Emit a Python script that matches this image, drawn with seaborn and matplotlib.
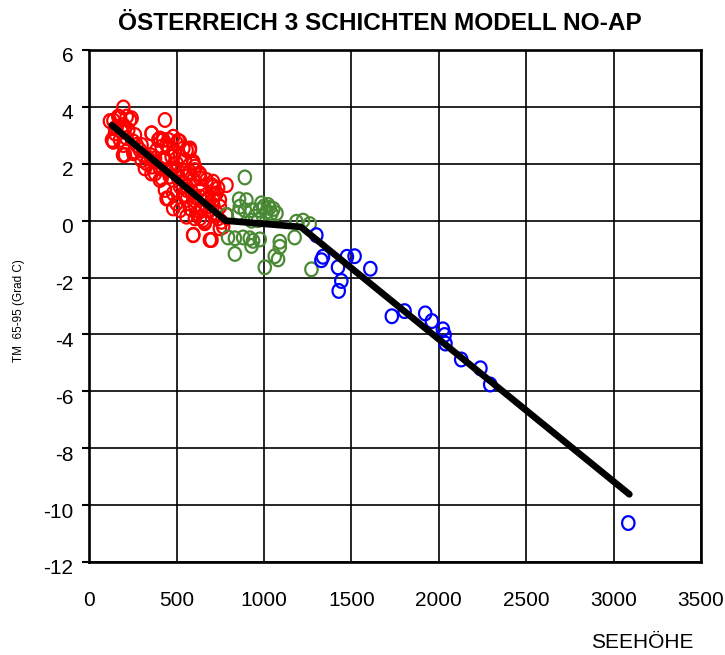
import numpy as np
import pandas as pd
import matplotlib
matplotlib.use("Agg")
import matplotlib.pyplot as plt
from matplotlib.path import Path
from matplotlib.markers import MarkerStyle
from matplotlib.transforms import ScaledTranslation
import seaborn as sns

# ---------------- data ----------------
red_x = [195, 138, 176, 214, 433, 233, 157, 195, 147, 185, 223, 138, 176, 214, 252, 271,
         204, 252, 290, 309, 357, 395, 423, 452, 509, 414, 452, 385, 347, 376, 423, 471,
         519, 557, 499, 357, 404, 442, 480, 528, 576, 604, 633, 376, 414, 461, 509, 557,
         595, 671, 709, 785, 433, 480, 538, 585, 442, 499, 557, 595, 633, 671, 728, 747,
         519, 576, 614, 671, 709, 747, 785, 633, 661, 595, 699, 499, 538, 480, 519, 557,
         633, 328, 299, 575, 594, 632, 708, 737, 556, 604, 670, 708, 632, 690, 728, 651,
         756, 747, 594, 690, 766, 556, 130, 193,
         118, 166, 242, 147, 204, 261, 137, 195, 261, 299, 356, 404, 442, 518, 576, 490,
         337, 375, 433, 547, 595, 318, 356, 404, 490, 566, 633, 604, 699, 452, 547, 480,
         604, 642, 680, 718, 604, 661, 737]
red_y = [3.98, 3.52, 3.63, 3.66, 3.54, 3.54, 3.30, 3.36, 3.07, 3.13, 3.19, 2.78, 2.84, 2.90, 2.78, 2.66,
         2.31, 2.37, 2.48, 2.31, 3.07, 2.84, 2.84, 2.84, 2.81, 2.60, 2.54, 2.48, 2.31, 2.19, 2.19, 2.25,
         2.25, 2.48, 2.02, 1.90, 1.84, 1.78, 1.84, 1.78, 1.72, 1.78, 1.49, 1.66, 1.49, 1.55, 1.49, 1.55,
         1.43, 1.43, 1.20, 1.25, 1.08, 0.96, 0.90, 1.02, 0.78, 0.61, 0.73, 0.73, 0.84, 0.73, 0.96, 0.73,
         0.37, 0.43, 0.26, 0.49, 0.55, 0.49, 0.20, 0.08, -0.09, -0.50, -0.68, 2.72, 2.54, 2.95, 1.20, 1.20,
         1.08, 2.02, 2.13, 2.48, 2.00, 1.66, 1.37, 1.14, 1.08, 0.84, 0.90, 0.73, 0.32, 0.37, 0.26, 0.02,
         -0.04, -0.27, -0.51, -0.68, -0.21, 0.14, 2.84, 2.31,
         3.50, 3.66, 3.60, 3.25, 3.25, 3.01, 2.78, 2.66, 2.43, 2.66, 3.07, 2.89, 2.66, 2.78, 2.54, 2.43,
         2.19, 2.07, 2.13, 2.13, 2.07, 1.84, 1.66, 1.43, 1.72, 1.66, 1.60, 1.90, 1.25, 0.78, 0.90, 0.43,
         0.55, 0.38, 0.78, 0.90, 0.08, -0.04, 0.08]

green_x = [890, 857, 899, 861, 890, 928, 852, 785, 985, 1023, 1013, 1042, 1071, 975, 928, 966,
           794, 833, 880, 918, 937, 928, 833, 975, 1090, 1090, 1061, 1080, 1004, 1185, 1223, 1261,
           1175, 1271, 947, 1053, 1030, 1000]
green_y = [1.52, 0.75, 0.72, 0.49, 0.37, 0.37, 0.26, 0.20, 0.61, 0.55, 0.31, 0.26, 0.26, 0.37, 0.00, 0.02,
           -0.59, -0.62, -0.59, -0.62, -0.71, -0.89, -1.17, -0.66, -0.74, -0.92, -1.25, -1.36, -1.64, -0.04, 0.00, -0.12,
           -0.59, -1.71, 0.14, 0.41, 0.45, 0.50]

blue_x = [1299, 1337, 1328, 1474, 1518, 1423, 1608, 1442, 1427, 1731, 1804, 1922, 1960, 2023,
          2033, 2038, 2128, 2238, 2294, 3084]
blue_y = [-0.51, -1.27, -1.39, -1.27, -1.25, -1.64, -1.69, -2.12, -2.47, -3.36, -3.18, -3.26, -3.53, -3.82,
          -4.02, -4.32, -4.88, -5.19, -5.76, -10.63]

model_x = [130, 780, 1210, 3090]
model_y = [3.35, 0.0, -0.22, -9.62]

x_ticks = [0, 500, 1000, 1500, 2000, 2500, 3000, 3500]
y_ticks = [-12, -10, -8, -6, -4, -2, 0, 2, 4, 6]

title = "ÖSTERREICH 3 SCHICHTEN MODELL NO-AP"
x_label = "SEEHÖHE"
y_label = "TM  65-95 (Grad C)"

# ---------------- style ----------------
sns.set_style("white")
plt.rcParams["font.family"] = ["Liberation Sans", "DejaVu Sans"]

fig = plt.figure(figsize=(7.25, 6.55), dpi=100)
W, H = 725, 655
ax = fig.add_axes([89.3 / W, 1 - 562 / H, (701 - 89.3) / W, (562 - 50) / H])

# open marker, slightly taller than wide
t = np.linspace(0, 2 * np.pi, 64)
ell = Path(np.column_stack([0.45 * np.cos(t), 0.5 * np.sin(t)]), closed=True)
mk = MarkerStyle(ell)

groups = [
    (red_x, red_y, "#ff0000"),
    (green_x, green_y, "#4b8a35"),
    (blue_x, blue_y, "#0000ff"),
]
for gx, gy, col in groups:
    df = pd.DataFrame({"x": gx, "y": gy})
    sns.scatterplot(data=df, x="x", y="y", ax=ax, marker=mk, s=98, color=col,
                    linewidth=1.6, legend=False, zorder=3)
    coll = ax.collections[-1]
    coll.set_facecolor("none")
    coll.set_edgecolor(col)
    coll.set_linewidth(1.6)

line_df = pd.DataFrame({"x": model_x, "y": model_y})
sns.lineplot(data=line_df, x="x", y="y", ax=ax, sort=False, estimator=None,
             color="black", linewidth=4.8, solid_capstyle="round", zorder=4)

ax.set_xlim(0, 3500)
ax.set_ylim(-12, 6)
ax.set_xticks(x_ticks)
ax.set_yticks(y_ticks)
ax.set_xticklabels([str(v) for v in x_ticks])
ax.set_yticklabels([str(v) for v in y_ticks])
ax.grid(True, color="black", linewidth=1.2)
ax.set_axisbelow(True)
for sp in ax.spines.values():
    sp.set_color("black")
    sp.set_linewidth(1.9)
    sp.set_visible(True)

ax.tick_params(axis="x", length=0, pad=21, labelsize=15, colors="black")
ax.tick_params(axis="y", length=5, width=1.5, direction="out", pad=6.5,
               labelsize=15, colors="black", left=True)
ax.set_xlabel("")
ax.set_ylabel("")

off = ScaledTranslation(0, -5 / 100, fig.dpi_scale_trans)
for lab in ax.get_yticklabels():
    lab.set_transform(lab.get_transform() + off)

fig.text(380 / W, 1 - 24 / H, title, ha="center", va="center",
         fontsize=17.6, fontweight="bold", color="black")
fig.text(642 / W, 1 - 643 / H, x_label, ha="center", va="center",
         fontsize=15, color="black")
fig.text(19 / W, 1 - 311 / H, y_label, ha="center", va="center",
         rotation=90, fontsize=8.5, color="black")

fig.savefig("out.png", dpi=100, facecolor="white")
